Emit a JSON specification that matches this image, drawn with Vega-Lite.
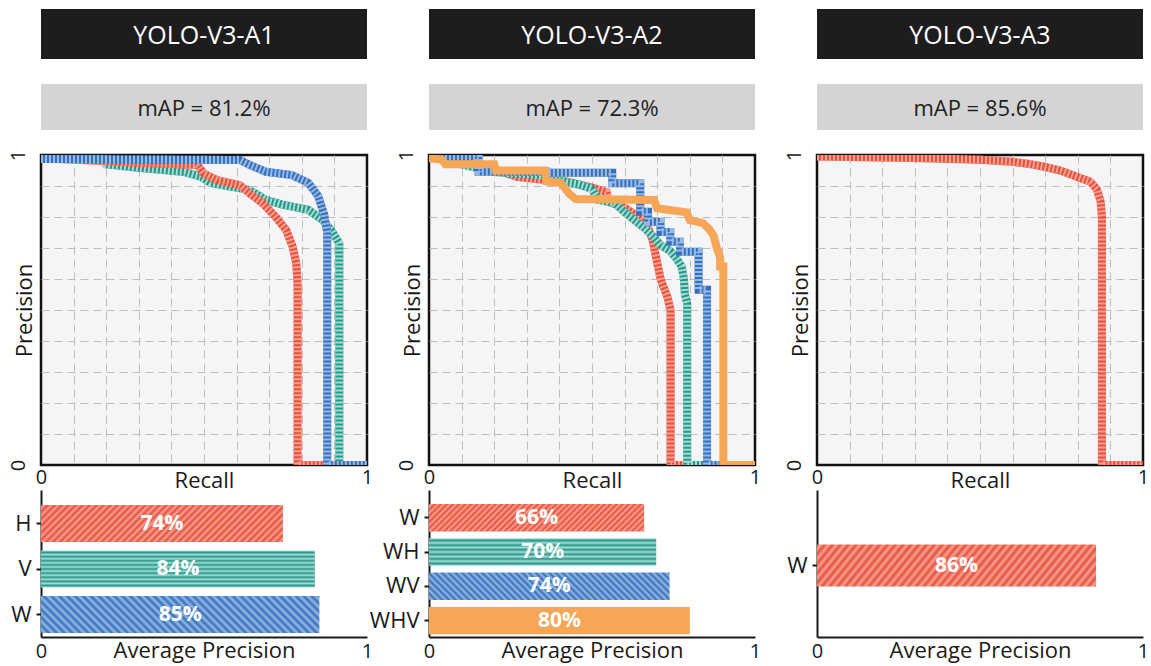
{
"$schema": "https://vega.github.io/schema/vega-lite/v6.json",
"usermeta": {"embedOptions": {"actions": false}},
"padding": {"left": 6, "top": 9, "right": 2, "bottom": 4},
"background": "white",
"config": {"font": "Open Sans", "view": {"stroke": null}},
"columns": 3,
"spacing": {"row": 25, "column": 62},
"bounds": "flush",
"datasets": {
"hdr": [
{"g":"A1","title":"YOLO-V3-A1","map":"mAP = 81.2%"},
{"g":"A2","title":"YOLO-V3-A2","map":"mAP = 72.3%"},
{"g":"A3","title":"YOLO-V3-A3","map":"mAP = 85.6%"}
],
"ap": [
{"g":"A1","s":"H","ap":0.742},{"g":"A1","s":"V","ap":0.84},{"g":"A1","s":"W","ap":0.854},
{"g":"A2","s":"W","ap":0.66},{"g":"A2","s":"WH","ap":0.697},{"g":"A2","s":"WV","ap":0.738},{"g":"A2","s":"WHV","ap":0.8},
{"g":"A3","s":"W","ap":0.856}
],
"pr": [
{"g":"A1","s":"H","i":0,"r":0,"p":0.99},{"g":"A1","s":"H","i":1,"r":0.3,"p":0.975},{"g":"A1","s":"H","i":2,"r":0.48,"p":0.968},{"g":"A1","s":"H","i":3,"r":0.5,"p":0.94},{"g":"A1","s":"H","i":4,"r":0.54,"p":0.919},{"g":"A1","s":"H","i":5,"r":0.61,"p":0.903},{"g":"A1","s":"H","i":6,"r":0.64,"p":0.876},{"g":"A1","s":"H","i":7,"r":0.68,"p":0.844},{"g":"A1","s":"H","i":8,"r":0.72,"p":0.8},{"g":"A1","s":"H","i":9,"r":0.752,"p":0.758},{"g":"A1","s":"H","i":10,"r":0.772,"p":0.704},{"g":"A1","s":"H","i":11,"r":0.783,"p":0.65},{"g":"A1","s":"H","i":12,"r":0.787,"p":0.587},{"g":"A1","s":"H","i":13,"r":0.787,"p":0},{"g":"A1","s":"H","i":14,"r":1,"p":0},
{"g":"A1","s":"V","i":0,"r":0,"p":0.99},{"g":"A1","s":"V","i":1,"r":0.195,"p":0.99},{"g":"A1","s":"V","i":2,"r":0.2,"p":0.97},{"g":"A1","s":"V","i":3,"r":0.29,"p":0.96},{"g":"A1","s":"V","i":4,"r":0.39,"p":0.95},{"g":"A1","s":"V","i":5,"r":0.44,"p":0.945},{"g":"A1","s":"V","i":6,"r":0.49,"p":0.93},{"g":"A1","s":"V","i":7,"r":0.52,"p":0.91},{"g":"A1","s":"V","i":8,"r":0.64,"p":0.887},{"g":"A1","s":"V","i":9,"r":0.69,"p":0.855},{"g":"A1","s":"V","i":10,"r":0.74,"p":0.84},{"g":"A1","s":"V","i":11,"r":0.82,"p":0.823},{"g":"A1","s":"V","i":12,"r":0.865,"p":0.79},{"g":"A1","s":"V","i":13,"r":0.89,"p":0.758},{"g":"A1","s":"V","i":14,"r":0.915,"p":0.715},{"g":"A1","s":"V","i":15,"r":0.915,"p":0},{"g":"A1","s":"V","i":16,"r":1,"p":0},
{"g":"A1","s":"W","i":0,"r":0,"p":0.987},{"g":"A1","s":"W","i":1,"r":0.61,"p":0.984},{"g":"A1","s":"W","i":2,"r":0.64,"p":0.968},{"g":"A1","s":"W","i":3,"r":0.69,"p":0.946},{"g":"A1","s":"W","i":4,"r":0.77,"p":0.935},{"g":"A1","s":"W","i":5,"r":0.82,"p":0.91},{"g":"A1","s":"W","i":6,"r":0.85,"p":0.868},{"g":"A1","s":"W","i":7,"r":0.868,"p":0.81},{"g":"A1","s":"W","i":8,"r":0.878,"p":0.75},{"g":"A1","s":"W","i":9,"r":0.878,"p":0},{"g":"A1","s":"W","i":10,"r":1,"p":0},
{"g":"A2","s":"W","i":0,"r":0,"p":0.995},{"g":"A2","s":"W","i":1,"r":0.05,"p":0.99},{"g":"A2","s":"W","i":2,"r":0.15,"p":0.97},{"g":"A2","s":"W","i":3,"r":0.27,"p":0.93},{"g":"A2","s":"W","i":4,"r":0.35,"p":0.92},{"g":"A2","s":"W","i":5,"r":0.42,"p":0.915},{"g":"A2","s":"W","i":6,"r":0.46,"p":0.905},{"g":"A2","s":"W","i":7,"r":0.5,"p":0.895},{"g":"A2","s":"W","i":8,"r":0.545,"p":0.88},{"g":"A2","s":"W","i":9,"r":0.55,"p":0.85},{"g":"A2","s":"W","i":10,"r":0.6,"p":0.83},{"g":"A2","s":"W","i":11,"r":0.65,"p":0.795},{"g":"A2","s":"W","i":12,"r":0.67,"p":0.77},{"g":"A2","s":"W","i":13,"r":0.686,"p":0.726},{"g":"A2","s":"W","i":14,"r":0.696,"p":0.672},{"g":"A2","s":"W","i":15,"r":0.711,"p":0.597},{"g":"A2","s":"W","i":16,"r":0.731,"p":0.543},{"g":"A2","s":"W","i":17,"r":0.741,"p":0.5},{"g":"A2","s":"W","i":18,"r":0.741,"p":0},{"g":"A2","s":"W","i":19,"r":1,"p":0},
{"g":"A2","s":"WH","i":0,"r":0,"p":0.995},{"g":"A2","s":"WH","i":1,"r":0.1,"p":0.97},{"g":"A2","s":"WH","i":2,"r":0.2,"p":0.945},{"g":"A2","s":"WH","i":3,"r":0.35,"p":0.935},{"g":"A2","s":"WH","i":4,"r":0.4,"p":0.915},{"g":"A2","s":"WH","i":5,"r":0.46,"p":0.905},{"g":"A2","s":"WH","i":6,"r":0.5,"p":0.89},{"g":"A2","s":"WH","i":7,"r":0.52,"p":0.855},{"g":"A2","s":"WH","i":8,"r":0.57,"p":0.845},{"g":"A2","s":"WH","i":9,"r":0.6,"p":0.815},{"g":"A2","s":"WH","i":10,"r":0.63,"p":0.79},{"g":"A2","s":"WH","i":11,"r":0.66,"p":0.765},{"g":"A2","s":"WH","i":12,"r":0.69,"p":0.735},{"g":"A2","s":"WH","i":13,"r":0.71,"p":0.71},{"g":"A2","s":"WH","i":14,"r":0.74,"p":0.69},{"g":"A2","s":"WH","i":15,"r":0.76,"p":0.665},{"g":"A2","s":"WH","i":16,"r":0.775,"p":0.64},{"g":"A2","s":"WH","i":17,"r":0.782,"p":0.6},{"g":"A2","s":"WH","i":18,"r":0.785,"p":0.55},{"g":"A2","s":"WH","i":19,"r":0.792,"p":0.52},{"g":"A2","s":"WH","i":20,"r":0.792,"p":0},{"g":"A2","s":"WH","i":21,"r":1,"p":0},
{"g":"A2","s":"WV","i":0,"r":0,"p":0.995},{"g":"A2","s":"WV","i":1,"r":0.152,"p":0.995},{"g":"A2","s":"WV","i":2,"r":0.152,"p":0.946},{"g":"A2","s":"WV","i":3,"r":0.36,"p":0.946},{"g":"A2","s":"WV","i":4,"r":0.36,"p":0.943},{"g":"A2","s":"WV","i":5,"r":0.562,"p":0.943},{"g":"A2","s":"WV","i":6,"r":0.562,"p":0.909},{"g":"A2","s":"WV","i":7,"r":0.648,"p":0.909},{"g":"A2","s":"WV","i":8,"r":0.648,"p":0.817},{"g":"A2","s":"WV","i":9,"r":0.672,"p":0.817},{"g":"A2","s":"WV","i":10,"r":0.672,"p":0.785},{"g":"A2","s":"WV","i":11,"r":0.71,"p":0.785},{"g":"A2","s":"WV","i":12,"r":0.71,"p":0.752},{"g":"A2","s":"WV","i":13,"r":0.74,"p":0.752},{"g":"A2","s":"WV","i":14,"r":0.74,"p":0.72},{"g":"A2","s":"WV","i":15,"r":0.77,"p":0.72},{"g":"A2","s":"WV","i":16,"r":0.77,"p":0.688},{"g":"A2","s":"WV","i":17,"r":0.827,"p":0.688},{"g":"A2","s":"WV","i":18,"r":0.827,"p":0.565},{"g":"A2","s":"WV","i":19,"r":0.853,"p":0.565},{"g":"A2","s":"WV","i":20,"r":0.853,"p":0},{"g":"A2","s":"WV","i":21,"r":1,"p":0},
{"g":"A2","s":"WHV","i":0,"r":0,"p":0.99},{"g":"A2","s":"WHV","i":1,"r":0.04,"p":0.985},{"g":"A2","s":"WHV","i":2,"r":0.05,"p":0.97},{"g":"A2","s":"WHV","i":3,"r":0.2,"p":0.97},{"g":"A2","s":"WHV","i":4,"r":0.205,"p":0.95},{"g":"A2","s":"WHV","i":5,"r":0.355,"p":0.95},{"g":"A2","s":"WHV","i":6,"r":0.36,"p":0.915},{"g":"A2","s":"WHV","i":7,"r":0.405,"p":0.91},{"g":"A2","s":"WHV","i":8,"r":0.43,"p":0.875},{"g":"A2","s":"WHV","i":9,"r":0.45,"p":0.858},{"g":"A2","s":"WHV","i":10,"r":0.69,"p":0.855},{"g":"A2","s":"WHV","i":11,"r":0.7,"p":0.828},{"g":"A2","s":"WHV","i":12,"r":0.79,"p":0.815},{"g":"A2","s":"WHV","i":13,"r":0.8,"p":0.79},{"g":"A2","s":"WHV","i":14,"r":0.84,"p":0.78},{"g":"A2","s":"WHV","i":15,"r":0.86,"p":0.76},{"g":"A2","s":"WHV","i":16,"r":0.873,"p":0.74},{"g":"A2","s":"WHV","i":17,"r":0.883,"p":0.7},{"g":"A2","s":"WHV","i":18,"r":0.893,"p":0.67},{"g":"A2","s":"WHV","i":19,"r":0.893,"p":0.64},{"g":"A2","s":"WHV","i":20,"r":0.903,"p":0.64},{"g":"A2","s":"WHV","i":21,"r":0.903,"p":0},{"g":"A2","s":"WHV","i":22,"r":1,"p":0},
{"g":"A3","s":"W","i":0,"r":0,"p":0.995},{"g":"A3","s":"W","i":1,"r":0.3,"p":0.99},{"g":"A3","s":"W","i":2,"r":0.5,"p":0.985},{"g":"A3","s":"W","i":3,"r":0.6,"p":0.978},{"g":"A3","s":"W","i":4,"r":0.645,"p":0.972},{"g":"A3","s":"W","i":5,"r":0.697,"p":0.962},{"g":"A3","s":"W","i":6,"r":0.747,"p":0.95},{"g":"A3","s":"W","i":7,"r":0.797,"p":0.93},{"g":"A3","s":"W","i":8,"r":0.838,"p":0.914},{"g":"A3","s":"W","i":9,"r":0.858,"p":0.89},{"g":"A3","s":"W","i":10,"r":0.87,"p":0.85},{"g":"A3","s":"W","i":11,"r":0.874,"p":0.8},{"g":"A3","s":"W","i":12,"r":0.874,"p":0},{"g":"A3","s":"W","i":13,"r":1,"p":0}
]
},
"concat": [
{"width": 326, "height": 50, "view": {"fill": "#1d1d1d", "stroke": null}, "data": {"name": "hdr"}, "transform": [{"filter": "datum.g == 'A1'"}], "mark": {"type": "text", "color": "#ffffff", "fontSize": 25, "dy": 2}, "encoding": {"text": {"field": "title", "type": "nominal"}}},
{"width": 326, "height": 50, "view": {"fill": "#1d1d1d", "stroke": null}, "data": {"name": "hdr"}, "transform": [{"filter": "datum.g == 'A2'"}], "mark": {"type": "text", "color": "#ffffff", "fontSize": 25, "dy": 2}, "encoding": {"text": {"field": "title", "type": "nominal"}}},
{"width": 326, "height": 50, "view": {"fill": "#1d1d1d", "stroke": null}, "data": {"name": "hdr"}, "transform": [{"filter": "datum.g == 'A3'"}], "mark": {"type": "text", "color": "#ffffff", "fontSize": 25, "dy": 2}, "encoding": {"text": {"field": "title", "type": "nominal"}}},
{"width": 326, "height": 46, "view": {"fill": "#d4d4d4", "stroke": null}, "data": {"name": "hdr"}, "transform": [{"filter": "datum.g == 'A1'"}], "mark": {"type": "text", "color": "#1f1f1f", "fontSize": 22, "dy": 2}, "encoding": {"text": {"field": "map", "type": "nominal"}}},
{"width": 326, "height": 46, "view": {"fill": "#d4d4d4", "stroke": null}, "data": {"name": "hdr"}, "transform": [{"filter": "datum.g == 'A2'"}], "mark": {"type": "text", "color": "#1f1f1f", "fontSize": 22, "dy": 2}, "encoding": {"text": {"field": "map", "type": "nominal"}}},
{"width": 326, "height": 46, "view": {"fill": "#d4d4d4", "stroke": null}, "data": {"name": "hdr"}, "transform": [{"filter": "datum.g == 'A3'"}], "mark": {"type": "text", "color": "#1f1f1f", "fontSize": 22, "dy": 2}, "encoding": {"text": {"field": "map", "type": "nominal"}}},
{"width": 326, "height": 310, "view": {"fill": "#f5f4f6", "stroke": "#111111", "strokeWidth": 2.5},
 "data": {"name": "pr"}, "transform": [{"filter": "datum.g == 'A1'"}],
 "encoding": {
  "x": {"field": "r", "type": "quantitative", "scale": {"domain": [0, 1], "nice": false, "zero": false}, "axis": {"values": [0,0.1,0.2,0.3,0.4,0.5,0.6,0.7,0.8,0.9,1], "labelExpr": "datum.value == 0 ? '0' : datum.value == 1 ? '1' : ''", "ticks": false, "domain": false, "grid": true, "gridDash": [8,5], "gridColor": "#bdbdbd", "gridWidth": 1, "gridOpacity": {"condition": {"test": "datum.value == 0 || datum.value == 1", "value": 0}, "value": 1}, "labelFlush": false, "labelOverlap": false, "labelBound": false, "labelFontSize": 20, "labelColor": "#1a1a1a", "labelBaseline": "alphabetic", "labelPadding": 18, "title": "Recall", "titleFontSize": 22, "titleFontWeight": "normal", "titleColor": "#1a1a1a", "titleBaseline": "alphabetic", "titleY": 22}},
  "y": {"field": "p", "type": "quantitative", "scale": {"domain": [0, 1], "nice": false, "zero": false}, "axis": {"values": [0,0.1,0.2,0.3,0.4,0.5,0.6,0.7,0.8,0.9,1], "labelExpr": "datum.value == 0 ? '0' : datum.value == 1 ? '1' : ''", "ticks": false, "domain": false, "grid": true, "gridDash": [8,5], "gridColor": "#bdbdbd", "gridWidth": 1, "gridOpacity": {"condition": {"test": "datum.value == 0 || datum.value == 1", "value": 0}, "value": 1}, "labelFlush": false, "labelOverlap": false, "labelBound": false, "labelAngle": 270, "labelAlign": "center", "labelBaseline": "alphabetic", "labelPadding": 17, "labelFontSize": 20, "labelColor": "#1a1a1a", "title": "Precision", "titleFontSize": 22, "titleFontWeight": "normal", "titleColor": "#1a1a1a", "titleAngle": 270, "titleAlign": "center", "titleBaseline": "alphabetic", "titleX": -10, "titleY": 155}},
  "order": {"field": "i", "type": "quantitative"}
 },
 "layer": [
  {"transform": [{"filter": "datum.s == 'V'"}], "mark": {"type": "line", "color": "#24998a", "strokeWidth": 8, "clip": true}},
  {"transform": [{"filter": "datum.s == 'V'"}], "mark": {"type": "line", "color": "#a7dbd3", "strokeWidth": 8, "strokeDash": [2,2], "clip": true}},
  {"transform": [{"filter": "datum.s == 'H'"}], "mark": {"type": "line", "color": "#e8503c", "strokeWidth": 8, "clip": true}},
  {"transform": [{"filter": "datum.s == 'H'"}], "mark": {"type": "line", "color": "#f6a293", "strokeWidth": 8, "strokeDash": [2,2], "clip": true}},
  {"transform": [{"filter": "datum.s == 'W'"}], "mark": {"type": "line", "color": "#3470bd", "strokeWidth": 8, "clip": true}},
  {"transform": [{"filter": "datum.s == 'W'"}], "mark": {"type": "line", "color": "#98b9e2", "strokeWidth": 8, "strokeDash": [2,2], "clip": true}}
 ]},
{"width": 326, "height": 310, "view": {"fill": "#f5f4f6", "stroke": "#111111", "strokeWidth": 2.5},
 "data": {"name": "pr"}, "transform": [{"filter": "datum.g == 'A2'"}],
 "encoding": {
  "x": {"field": "r", "type": "quantitative", "scale": {"domain": [0, 1], "nice": false, "zero": false}, "axis": {"values": [0,0.1,0.2,0.3,0.4,0.5,0.6,0.7,0.8,0.9,1], "labelExpr": "datum.value == 0 ? '0' : datum.value == 1 ? '1' : ''", "ticks": false, "domain": false, "grid": true, "gridDash": [8,5], "gridColor": "#bdbdbd", "gridWidth": 1, "gridOpacity": {"condition": {"test": "datum.value == 0 || datum.value == 1", "value": 0}, "value": 1}, "labelFlush": false, "labelOverlap": false, "labelBound": false, "labelFontSize": 20, "labelColor": "#1a1a1a", "labelBaseline": "alphabetic", "labelPadding": 18, "title": "Recall", "titleFontSize": 22, "titleFontWeight": "normal", "titleColor": "#1a1a1a", "titleBaseline": "alphabetic", "titleY": 22}},
  "y": {"field": "p", "type": "quantitative", "scale": {"domain": [0, 1], "nice": false, "zero": false}, "axis": {"values": [0,0.1,0.2,0.3,0.4,0.5,0.6,0.7,0.8,0.9,1], "labelExpr": "datum.value == 0 ? '0' : datum.value == 1 ? '1' : ''", "ticks": false, "domain": false, "grid": true, "gridDash": [8,5], "gridColor": "#bdbdbd", "gridWidth": 1, "gridOpacity": {"condition": {"test": "datum.value == 0 || datum.value == 1", "value": 0}, "value": 1}, "labelFlush": false, "labelOverlap": false, "labelBound": false, "labelAngle": 270, "labelAlign": "center", "labelBaseline": "alphabetic", "labelPadding": 17, "labelFontSize": 20, "labelColor": "#1a1a1a", "title": "Precision", "titleFontSize": 22, "titleFontWeight": "normal", "titleColor": "#1a1a1a", "titleAngle": 270, "titleAlign": "center", "titleBaseline": "alphabetic", "titleX": -10, "titleY": 155}},
  "order": {"field": "i", "type": "quantitative"}
 },
 "layer": [
  {"transform": [{"filter": "datum.s == 'W'"}], "mark": {"type": "line", "color": "#e8503c", "strokeWidth": 8, "clip": true}},
  {"transform": [{"filter": "datum.s == 'W'"}], "mark": {"type": "line", "color": "#f6a293", "strokeWidth": 8, "strokeDash": [2,2], "clip": true}},
  {"transform": [{"filter": "datum.s == 'WH'"}], "mark": {"type": "line", "color": "#24998a", "strokeWidth": 8, "clip": true}},
  {"transform": [{"filter": "datum.s == 'WH'"}], "mark": {"type": "line", "color": "#a7dbd3", "strokeWidth": 8, "strokeDash": [2,2], "clip": true}},
  {"transform": [{"filter": "datum.s == 'WV'"}], "mark": {"type": "line", "color": "#3470bd", "strokeWidth": 8, "clip": true}},
  {"transform": [{"filter": "datum.s == 'WV'"}], "mark": {"type": "line", "color": "#98b9e2", "strokeWidth": 8, "strokeDash": [2,2], "clip": true}},
  {"transform": [{"filter": "datum.s == 'WHV'"}], "mark": {"type": "line", "color": "#f5a656", "strokeWidth": 8, "clip": true}}
 ]},
{"width": 326, "height": 310, "view": {"fill": "#f5f4f6", "stroke": "#111111", "strokeWidth": 2.5},
 "data": {"name": "pr"}, "transform": [{"filter": "datum.g == 'A3'"}],
 "encoding": {
  "x": {"field": "r", "type": "quantitative", "scale": {"domain": [0, 1], "nice": false, "zero": false}, "axis": {"values": [0,0.1,0.2,0.3,0.4,0.5,0.6,0.7,0.8,0.9,1], "labelExpr": "datum.value == 0 ? '0' : datum.value == 1 ? '1' : ''", "ticks": false, "domain": false, "grid": true, "gridDash": [8,5], "gridColor": "#bdbdbd", "gridWidth": 1, "gridOpacity": {"condition": {"test": "datum.value == 0 || datum.value == 1", "value": 0}, "value": 1}, "labelFlush": false, "labelOverlap": false, "labelBound": false, "labelFontSize": 20, "labelColor": "#1a1a1a", "labelBaseline": "alphabetic", "labelPadding": 18, "title": "Recall", "titleFontSize": 22, "titleFontWeight": "normal", "titleColor": "#1a1a1a", "titleBaseline": "alphabetic", "titleY": 22}},
  "y": {"field": "p", "type": "quantitative", "scale": {"domain": [0, 1], "nice": false, "zero": false}, "axis": {"values": [0,0.1,0.2,0.3,0.4,0.5,0.6,0.7,0.8,0.9,1], "labelExpr": "datum.value == 0 ? '0' : datum.value == 1 ? '1' : ''", "ticks": false, "domain": false, "grid": true, "gridDash": [8,5], "gridColor": "#bdbdbd", "gridWidth": 1, "gridOpacity": {"condition": {"test": "datum.value == 0 || datum.value == 1", "value": 0}, "value": 1}, "labelFlush": false, "labelOverlap": false, "labelBound": false, "labelAngle": 270, "labelAlign": "center", "labelBaseline": "alphabetic", "labelPadding": 17, "labelFontSize": 20, "labelColor": "#1a1a1a", "title": "Precision", "titleFontSize": 22, "titleFontWeight": "normal", "titleColor": "#1a1a1a", "titleAngle": 270, "titleAlign": "center", "titleBaseline": "alphabetic", "titleX": -10, "titleY": 155}},
  "order": {"field": "i", "type": "quantitative"}
 },
 "layer": [
  {"transform": [{"filter": "datum.s == 'W'"}], "mark": {"type": "line", "color": "#e8503c", "strokeWidth": 8, "clip": true}},
  {"transform": [{"filter": "datum.s == 'W'"}], "mark": {"type": "line", "color": "#f6a293", "strokeWidth": 8, "strokeDash": [2,2], "clip": true}}
 ]},
{"width": 326, "height": 147,
 "data": {"name": "ap"}, "transform": [{"filter": "datum.g == 'A1'"}, {"calculate": "datum.ap / 2", "as": "mid"}],
 "encoding": {
  "y": {"field": "s", "type": "nominal", "sort": ["H","V","W"], "scale": {"paddingInner": 0.187, "paddingOuter": 0.209, "align": 0.79}, "axis": {"title": null, "domainColor": "#1a1a1a", "domainWidth": 2, "tickColor": "#1a1a1a", "tickWidth": 2, "tickSize": 5, "labelFontSize": 22, "labelColor": "#1a1a1a", "labelPadding": 5}},
  "x": {"field": "ap", "type": "quantitative", "scale": {"domain": [0, 1], "nice": false}, "axis": {"values": [0, 1], "format": "d", "ticks": false, "grid": false, "domainColor": "#1a1a1a", "domainWidth": 2, "labelFlush": false, "labelFontSize": 20, "labelColor": "#1a1a1a", "labelBaseline": "alphabetic", "labelPadding": 20, "title": "Average Precision", "titleFontSize": 22, "titleFontWeight": "normal", "titleColor": "#1a1a1a", "titleBaseline": "alphabetic", "titleY": 20}}
 },
 "layer": [
  {"transform": [{"filter": "datum.s == 'H'"}], "mark": {"type": "bar", "color": {"gradient": "linear", "x1": 0, "y1": 0, "x2": 1.1265, "y2": 0.1718, "stops": [{"offset":0,"color":"#e8503c"},{"offset":0.0125,"color":"#f6a293"},{"offset":0.025,"color":"#e8503c"},{"offset":0.0375,"color":"#f6a293"},{"offset":0.05,"color":"#e8503c"},{"offset":0.0625,"color":"#f6a293"},{"offset":0.075,"color":"#e8503c"},{"offset":0.0875,"color":"#f6a293"},{"offset":0.1,"color":"#e8503c"},{"offset":0.1125,"color":"#f6a293"},{"offset":0.125,"color":"#e8503c"},{"offset":0.1375,"color":"#f6a293"},{"offset":0.15,"color":"#e8503c"},{"offset":0.1625,"color":"#f6a293"},{"offset":0.175,"color":"#e8503c"},{"offset":0.1875,"color":"#f6a293"},{"offset":0.2,"color":"#e8503c"},{"offset":0.2125,"color":"#f6a293"},{"offset":0.225,"color":"#e8503c"},{"offset":0.2375,"color":"#f6a293"},{"offset":0.25,"color":"#e8503c"},{"offset":0.2625,"color":"#f6a293"},{"offset":0.275,"color":"#e8503c"},{"offset":0.2875,"color":"#f6a293"},{"offset":0.3,"color":"#e8503c"},{"offset":0.3125,"color":"#f6a293"},{"offset":0.325,"color":"#e8503c"},{"offset":0.3375,"color":"#f6a293"},{"offset":0.35,"color":"#e8503c"},{"offset":0.3625,"color":"#f6a293"},{"offset":0.375,"color":"#e8503c"},{"offset":0.3875,"color":"#f6a293"},{"offset":0.4,"color":"#e8503c"},{"offset":0.4125,"color":"#f6a293"},{"offset":0.425,"color":"#e8503c"},{"offset":0.4375,"color":"#f6a293"},{"offset":0.45,"color":"#e8503c"},{"offset":0.4625,"color":"#f6a293"},{"offset":0.475,"color":"#e8503c"},{"offset":0.4875,"color":"#f6a293"},{"offset":0.5,"color":"#e8503c"},{"offset":0.5125,"color":"#f6a293"},{"offset":0.525,"color":"#e8503c"},{"offset":0.5375,"color":"#f6a293"},{"offset":0.55,"color":"#e8503c"},{"offset":0.5625,"color":"#f6a293"},{"offset":0.575,"color":"#e8503c"},{"offset":0.5875,"color":"#f6a293"},{"offset":0.6,"color":"#e8503c"},{"offset":0.6125,"color":"#f6a293"},{"offset":0.625,"color":"#e8503c"},{"offset":0.6375,"color":"#f6a293"},{"offset":0.65,"color":"#e8503c"},{"offset":0.6625,"color":"#f6a293"},{"offset":0.675,"color":"#e8503c"},{"offset":0.6875,"color":"#f6a293"},{"offset":0.7,"color":"#e8503c"},{"offset":0.7125,"color":"#f6a293"},{"offset":0.725,"color":"#e8503c"},{"offset":0.7375,"color":"#f6a293"},{"offset":0.75,"color":"#e8503c"},{"offset":0.7625,"color":"#f6a293"},{"offset":0.775,"color":"#e8503c"},{"offset":0.7875,"color":"#f6a293"},{"offset":0.8,"color":"#e8503c"},{"offset":0.8125,"color":"#f6a293"},{"offset":0.825,"color":"#e8503c"},{"offset":0.8375,"color":"#f6a293"},{"offset":0.85,"color":"#e8503c"},{"offset":0.8625,"color":"#f6a293"},{"offset":0.875,"color":"#e8503c"},{"offset":0.8875,"color":"#f6a293"},{"offset":0.9,"color":"#e8503c"},{"offset":0.9125,"color":"#f6a293"},{"offset":0.925,"color":"#e8503c"},{"offset":0.9375,"color":"#f6a293"},{"offset":0.95,"color":"#e8503c"},{"offset":0.9625,"color":"#f6a293"},{"offset":0.975,"color":"#e8503c"},{"offset":0.9875,"color":"#f6a293"},{"offset":1,"color":"#e8503c"}]}}},
  {"transform": [{"filter": "datum.s == 'V'"}], "mark": {"type": "bar", "color": {"gradient": "linear", "x1": 0, "y1": 0, "x2": 0, "y2": 1, "stops": [{"offset":0,"color":"#a7dbd3"},{"offset":0.0556,"color":"#24998a"},{"offset":0.1111,"color":"#a7dbd3"},{"offset":0.1667,"color":"#24998a"},{"offset":0.2222,"color":"#a7dbd3"},{"offset":0.2778,"color":"#24998a"},{"offset":0.3333,"color":"#a7dbd3"},{"offset":0.3889,"color":"#24998a"},{"offset":0.4444,"color":"#a7dbd3"},{"offset":0.5,"color":"#24998a"},{"offset":0.5556,"color":"#a7dbd3"},{"offset":0.6111,"color":"#24998a"},{"offset":0.6667,"color":"#a7dbd3"},{"offset":0.7222,"color":"#24998a"},{"offset":0.7778,"color":"#a7dbd3"},{"offset":0.8333,"color":"#24998a"},{"offset":0.8889,"color":"#a7dbd3"},{"offset":0.9444,"color":"#24998a"},{"offset":1,"color":"#a7dbd3"}]}}},
  {"transform": [{"filter": "datum.s == 'W'"}], "mark": {"type": "bar", "color": {"gradient": "linear", "x1": 0, "y1": 1, "x2": 1.1132, "y2": 0.8525, "stops": [{"offset":0,"color":"#3470bd"},{"offset":0.0125,"color":"#98b9e2"},{"offset":0.025,"color":"#3470bd"},{"offset":0.0375,"color":"#98b9e2"},{"offset":0.05,"color":"#3470bd"},{"offset":0.0625,"color":"#98b9e2"},{"offset":0.075,"color":"#3470bd"},{"offset":0.0875,"color":"#98b9e2"},{"offset":0.1,"color":"#3470bd"},{"offset":0.1125,"color":"#98b9e2"},{"offset":0.125,"color":"#3470bd"},{"offset":0.1375,"color":"#98b9e2"},{"offset":0.15,"color":"#3470bd"},{"offset":0.1625,"color":"#98b9e2"},{"offset":0.175,"color":"#3470bd"},{"offset":0.1875,"color":"#98b9e2"},{"offset":0.2,"color":"#3470bd"},{"offset":0.2125,"color":"#98b9e2"},{"offset":0.225,"color":"#3470bd"},{"offset":0.2375,"color":"#98b9e2"},{"offset":0.25,"color":"#3470bd"},{"offset":0.2625,"color":"#98b9e2"},{"offset":0.275,"color":"#3470bd"},{"offset":0.2875,"color":"#98b9e2"},{"offset":0.3,"color":"#3470bd"},{"offset":0.3125,"color":"#98b9e2"},{"offset":0.325,"color":"#3470bd"},{"offset":0.3375,"color":"#98b9e2"},{"offset":0.35,"color":"#3470bd"},{"offset":0.3625,"color":"#98b9e2"},{"offset":0.375,"color":"#3470bd"},{"offset":0.3875,"color":"#98b9e2"},{"offset":0.4,"color":"#3470bd"},{"offset":0.4125,"color":"#98b9e2"},{"offset":0.425,"color":"#3470bd"},{"offset":0.4375,"color":"#98b9e2"},{"offset":0.45,"color":"#3470bd"},{"offset":0.4625,"color":"#98b9e2"},{"offset":0.475,"color":"#3470bd"},{"offset":0.4875,"color":"#98b9e2"},{"offset":0.5,"color":"#3470bd"},{"offset":0.5125,"color":"#98b9e2"},{"offset":0.525,"color":"#3470bd"},{"offset":0.5375,"color":"#98b9e2"},{"offset":0.55,"color":"#3470bd"},{"offset":0.5625,"color":"#98b9e2"},{"offset":0.575,"color":"#3470bd"},{"offset":0.5875,"color":"#98b9e2"},{"offset":0.6,"color":"#3470bd"},{"offset":0.6125,"color":"#98b9e2"},{"offset":0.625,"color":"#3470bd"},{"offset":0.6375,"color":"#98b9e2"},{"offset":0.65,"color":"#3470bd"},{"offset":0.6625,"color":"#98b9e2"},{"offset":0.675,"color":"#3470bd"},{"offset":0.6875,"color":"#98b9e2"},{"offset":0.7,"color":"#3470bd"},{"offset":0.7125,"color":"#98b9e2"},{"offset":0.725,"color":"#3470bd"},{"offset":0.7375,"color":"#98b9e2"},{"offset":0.75,"color":"#3470bd"},{"offset":0.7625,"color":"#98b9e2"},{"offset":0.775,"color":"#3470bd"},{"offset":0.7875,"color":"#98b9e2"},{"offset":0.8,"color":"#3470bd"},{"offset":0.8125,"color":"#98b9e2"},{"offset":0.825,"color":"#3470bd"},{"offset":0.8375,"color":"#98b9e2"},{"offset":0.85,"color":"#3470bd"},{"offset":0.8625,"color":"#98b9e2"},{"offset":0.875,"color":"#3470bd"},{"offset":0.8875,"color":"#98b9e2"},{"offset":0.9,"color":"#3470bd"},{"offset":0.9125,"color":"#98b9e2"},{"offset":0.925,"color":"#3470bd"},{"offset":0.9375,"color":"#98b9e2"},{"offset":0.95,"color":"#3470bd"},{"offset":0.9625,"color":"#98b9e2"},{"offset":0.975,"color":"#3470bd"},{"offset":0.9875,"color":"#98b9e2"},{"offset":1,"color":"#3470bd"}]}}},
  {"mark": {"type": "text", "color": "#ffffff", "fontSize": 21, "fontWeight": "bold"}, "encoding": {"x": {"field": "mid", "type": "quantitative"}, "text": {"field": "ap", "type": "quantitative", "format": ".0%"}}}
 ]},
{"width": 326, "height": 147,
 "data": {"name": "ap"}, "transform": [{"filter": "datum.g == 'A2'"}, {"calculate": "datum.ap / 2", "as": "mid"}],
 "encoding": {
  "y": {"field": "s", "type": "nominal", "sort": ["W","WH","WV","WHV"], "scale": {"paddingInner": 0.2, "paddingOuter": 0.243, "align": 0.84}, "axis": {"title": null, "domainColor": "#1a1a1a", "domainWidth": 2, "tickColor": "#1a1a1a", "tickWidth": 2, "tickSize": 5, "labelFontSize": 22, "labelColor": "#1a1a1a", "labelPadding": 5}},
  "x": {"field": "ap", "type": "quantitative", "scale": {"domain": [0, 1], "nice": false}, "axis": {"values": [0, 1], "format": "d", "ticks": false, "grid": false, "domainColor": "#1a1a1a", "domainWidth": 2, "labelFlush": false, "labelFontSize": 20, "labelColor": "#1a1a1a", "labelBaseline": "alphabetic", "labelPadding": 20, "title": "Average Precision", "titleFontSize": 22, "titleFontWeight": "normal", "titleColor": "#1a1a1a", "titleBaseline": "alphabetic", "titleY": 20}}
 },
 "layer": [
  {"transform": [{"filter": "datum.s == 'W'"}], "mark": {"type": "bar", "color": {"gradient": "linear", "x1": 0, "y1": 0, "x2": 1.109, "y2": 0.141, "stops": [{"offset":0,"color":"#e8503c"},{"offset":0.0125,"color":"#f6a293"},{"offset":0.025,"color":"#e8503c"},{"offset":0.0375,"color":"#f6a293"},{"offset":0.05,"color":"#e8503c"},{"offset":0.0625,"color":"#f6a293"},{"offset":0.075,"color":"#e8503c"},{"offset":0.0875,"color":"#f6a293"},{"offset":0.1,"color":"#e8503c"},{"offset":0.1125,"color":"#f6a293"},{"offset":0.125,"color":"#e8503c"},{"offset":0.1375,"color":"#f6a293"},{"offset":0.15,"color":"#e8503c"},{"offset":0.1625,"color":"#f6a293"},{"offset":0.175,"color":"#e8503c"},{"offset":0.1875,"color":"#f6a293"},{"offset":0.2,"color":"#e8503c"},{"offset":0.2125,"color":"#f6a293"},{"offset":0.225,"color":"#e8503c"},{"offset":0.2375,"color":"#f6a293"},{"offset":0.25,"color":"#e8503c"},{"offset":0.2625,"color":"#f6a293"},{"offset":0.275,"color":"#e8503c"},{"offset":0.2875,"color":"#f6a293"},{"offset":0.3,"color":"#e8503c"},{"offset":0.3125,"color":"#f6a293"},{"offset":0.325,"color":"#e8503c"},{"offset":0.3375,"color":"#f6a293"},{"offset":0.35,"color":"#e8503c"},{"offset":0.3625,"color":"#f6a293"},{"offset":0.375,"color":"#e8503c"},{"offset":0.3875,"color":"#f6a293"},{"offset":0.4,"color":"#e8503c"},{"offset":0.4125,"color":"#f6a293"},{"offset":0.425,"color":"#e8503c"},{"offset":0.4375,"color":"#f6a293"},{"offset":0.45,"color":"#e8503c"},{"offset":0.4625,"color":"#f6a293"},{"offset":0.475,"color":"#e8503c"},{"offset":0.4875,"color":"#f6a293"},{"offset":0.5,"color":"#e8503c"},{"offset":0.5125,"color":"#f6a293"},{"offset":0.525,"color":"#e8503c"},{"offset":0.5375,"color":"#f6a293"},{"offset":0.55,"color":"#e8503c"},{"offset":0.5625,"color":"#f6a293"},{"offset":0.575,"color":"#e8503c"},{"offset":0.5875,"color":"#f6a293"},{"offset":0.6,"color":"#e8503c"},{"offset":0.6125,"color":"#f6a293"},{"offset":0.625,"color":"#e8503c"},{"offset":0.6375,"color":"#f6a293"},{"offset":0.65,"color":"#e8503c"},{"offset":0.6625,"color":"#f6a293"},{"offset":0.675,"color":"#e8503c"},{"offset":0.6875,"color":"#f6a293"},{"offset":0.7,"color":"#e8503c"},{"offset":0.7125,"color":"#f6a293"},{"offset":0.725,"color":"#e8503c"},{"offset":0.7375,"color":"#f6a293"},{"offset":0.75,"color":"#e8503c"},{"offset":0.7625,"color":"#f6a293"},{"offset":0.775,"color":"#e8503c"},{"offset":0.7875,"color":"#f6a293"},{"offset":0.8,"color":"#e8503c"},{"offset":0.8125,"color":"#f6a293"},{"offset":0.825,"color":"#e8503c"},{"offset":0.8375,"color":"#f6a293"},{"offset":0.85,"color":"#e8503c"},{"offset":0.8625,"color":"#f6a293"},{"offset":0.875,"color":"#e8503c"},{"offset":0.8875,"color":"#f6a293"},{"offset":0.9,"color":"#e8503c"},{"offset":0.9125,"color":"#f6a293"},{"offset":0.925,"color":"#e8503c"},{"offset":0.9375,"color":"#f6a293"},{"offset":0.95,"color":"#e8503c"},{"offset":0.9625,"color":"#f6a293"},{"offset":0.975,"color":"#e8503c"},{"offset":0.9875,"color":"#f6a293"},{"offset":1,"color":"#e8503c"}]}}},
  {"transform": [{"filter": "datum.s == 'WH'"}], "mark": {"type": "bar", "color": {"gradient": "linear", "x1": 0, "y1": 0, "x2": 0, "y2": 1, "stops": [{"offset":0,"color":"#a7dbd3"},{"offset":0.0833,"color":"#24998a"},{"offset":0.1667,"color":"#a7dbd3"},{"offset":0.25,"color":"#24998a"},{"offset":0.3333,"color":"#a7dbd3"},{"offset":0.4167,"color":"#24998a"},{"offset":0.5,"color":"#a7dbd3"},{"offset":0.5833,"color":"#24998a"},{"offset":0.6667,"color":"#a7dbd3"},{"offset":0.75,"color":"#24998a"},{"offset":0.8333,"color":"#a7dbd3"},{"offset":0.9167,"color":"#24998a"},{"offset":1,"color":"#a7dbd3"}]}}},
  {"transform": [{"filter": "datum.s == 'WV'"}], "mark": {"type": "bar", "color": {"gradient": "linear", "x1": 0, "y1": 1, "x2": 1.0994, "y2": 0.875, "stops": [{"offset":0,"color":"#3470bd"},{"offset":0.0125,"color":"#98b9e2"},{"offset":0.025,"color":"#3470bd"},{"offset":0.0375,"color":"#98b9e2"},{"offset":0.05,"color":"#3470bd"},{"offset":0.0625,"color":"#98b9e2"},{"offset":0.075,"color":"#3470bd"},{"offset":0.0875,"color":"#98b9e2"},{"offset":0.1,"color":"#3470bd"},{"offset":0.1125,"color":"#98b9e2"},{"offset":0.125,"color":"#3470bd"},{"offset":0.1375,"color":"#98b9e2"},{"offset":0.15,"color":"#3470bd"},{"offset":0.1625,"color":"#98b9e2"},{"offset":0.175,"color":"#3470bd"},{"offset":0.1875,"color":"#98b9e2"},{"offset":0.2,"color":"#3470bd"},{"offset":0.2125,"color":"#98b9e2"},{"offset":0.225,"color":"#3470bd"},{"offset":0.2375,"color":"#98b9e2"},{"offset":0.25,"color":"#3470bd"},{"offset":0.2625,"color":"#98b9e2"},{"offset":0.275,"color":"#3470bd"},{"offset":0.2875,"color":"#98b9e2"},{"offset":0.3,"color":"#3470bd"},{"offset":0.3125,"color":"#98b9e2"},{"offset":0.325,"color":"#3470bd"},{"offset":0.3375,"color":"#98b9e2"},{"offset":0.35,"color":"#3470bd"},{"offset":0.3625,"color":"#98b9e2"},{"offset":0.375,"color":"#3470bd"},{"offset":0.3875,"color":"#98b9e2"},{"offset":0.4,"color":"#3470bd"},{"offset":0.4125,"color":"#98b9e2"},{"offset":0.425,"color":"#3470bd"},{"offset":0.4375,"color":"#98b9e2"},{"offset":0.45,"color":"#3470bd"},{"offset":0.4625,"color":"#98b9e2"},{"offset":0.475,"color":"#3470bd"},{"offset":0.4875,"color":"#98b9e2"},{"offset":0.5,"color":"#3470bd"},{"offset":0.5125,"color":"#98b9e2"},{"offset":0.525,"color":"#3470bd"},{"offset":0.5375,"color":"#98b9e2"},{"offset":0.55,"color":"#3470bd"},{"offset":0.5625,"color":"#98b9e2"},{"offset":0.575,"color":"#3470bd"},{"offset":0.5875,"color":"#98b9e2"},{"offset":0.6,"color":"#3470bd"},{"offset":0.6125,"color":"#98b9e2"},{"offset":0.625,"color":"#3470bd"},{"offset":0.6375,"color":"#98b9e2"},{"offset":0.65,"color":"#3470bd"},{"offset":0.6625,"color":"#98b9e2"},{"offset":0.675,"color":"#3470bd"},{"offset":0.6875,"color":"#98b9e2"},{"offset":0.7,"color":"#3470bd"},{"offset":0.7125,"color":"#98b9e2"},{"offset":0.725,"color":"#3470bd"},{"offset":0.7375,"color":"#98b9e2"},{"offset":0.75,"color":"#3470bd"},{"offset":0.7625,"color":"#98b9e2"},{"offset":0.775,"color":"#3470bd"},{"offset":0.7875,"color":"#98b9e2"},{"offset":0.8,"color":"#3470bd"},{"offset":0.8125,"color":"#98b9e2"},{"offset":0.825,"color":"#3470bd"},{"offset":0.8375,"color":"#98b9e2"},{"offset":0.85,"color":"#3470bd"},{"offset":0.8625,"color":"#98b9e2"},{"offset":0.875,"color":"#3470bd"},{"offset":0.8875,"color":"#98b9e2"},{"offset":0.9,"color":"#3470bd"},{"offset":0.9125,"color":"#98b9e2"},{"offset":0.925,"color":"#3470bd"},{"offset":0.9375,"color":"#98b9e2"},{"offset":0.95,"color":"#3470bd"},{"offset":0.9625,"color":"#98b9e2"},{"offset":0.975,"color":"#3470bd"},{"offset":0.9875,"color":"#98b9e2"},{"offset":1,"color":"#3470bd"}]}}},
  {"transform": [{"filter": "datum.s == 'WHV'"}], "mark": {"type": "bar", "color": "#f5a656"}},
  {"mark": {"type": "text", "color": "#ffffff", "fontSize": 21, "fontWeight": "bold"}, "encoding": {"x": {"field": "mid", "type": "quantitative"}, "text": {"field": "ap", "type": "quantitative", "format": ".0%"}}}
 ]},
{"width": 326, "height": 147,
 "data": {"name": "ap"}, "transform": [{"filter": "datum.g == 'A3'"}, {"calculate": "datum.ap / 2", "as": "mid"}],
 "encoding": {
  "y": {"field": "s", "type": "nominal", "sort": ["W"], "scale": {"paddingInner": 0.2, "paddingOuter": 1.31, "align": 0.52}, "axis": {"title": null, "domainColor": "#1a1a1a", "domainWidth": 2, "tickColor": "#1a1a1a", "tickWidth": 2, "tickSize": 5, "labelFontSize": 22, "labelColor": "#1a1a1a", "labelPadding": 5}},
  "x": {"field": "ap", "type": "quantitative", "scale": {"domain": [0, 1], "nice": false}, "axis": {"values": [0, 1], "format": "d", "ticks": false, "grid": false, "domainColor": "#1a1a1a", "domainWidth": 2, "labelFlush": false, "labelFontSize": 20, "labelColor": "#1a1a1a", "labelBaseline": "alphabetic", "labelPadding": 20, "title": "Average Precision", "titleFontSize": 22, "titleFontWeight": "normal", "titleColor": "#1a1a1a", "titleBaseline": "alphabetic", "titleY": 20}}
 },
 "layer": [
  {"transform": [{"filter": "datum.s == 'W'"}], "mark": {"type": "bar", "color": {"gradient": "linear", "x1": 0, "y1": 0, "x2": 1.1066, "y2": 0.136, "stops": [{"offset":0,"color":"#e8503c"},{"offset":0.0125,"color":"#f6a293"},{"offset":0.025,"color":"#e8503c"},{"offset":0.0375,"color":"#f6a293"},{"offset":0.05,"color":"#e8503c"},{"offset":0.0625,"color":"#f6a293"},{"offset":0.075,"color":"#e8503c"},{"offset":0.0875,"color":"#f6a293"},{"offset":0.1,"color":"#e8503c"},{"offset":0.1125,"color":"#f6a293"},{"offset":0.125,"color":"#e8503c"},{"offset":0.1375,"color":"#f6a293"},{"offset":0.15,"color":"#e8503c"},{"offset":0.1625,"color":"#f6a293"},{"offset":0.175,"color":"#e8503c"},{"offset":0.1875,"color":"#f6a293"},{"offset":0.2,"color":"#e8503c"},{"offset":0.2125,"color":"#f6a293"},{"offset":0.225,"color":"#e8503c"},{"offset":0.2375,"color":"#f6a293"},{"offset":0.25,"color":"#e8503c"},{"offset":0.2625,"color":"#f6a293"},{"offset":0.275,"color":"#e8503c"},{"offset":0.2875,"color":"#f6a293"},{"offset":0.3,"color":"#e8503c"},{"offset":0.3125,"color":"#f6a293"},{"offset":0.325,"color":"#e8503c"},{"offset":0.3375,"color":"#f6a293"},{"offset":0.35,"color":"#e8503c"},{"offset":0.3625,"color":"#f6a293"},{"offset":0.375,"color":"#e8503c"},{"offset":0.3875,"color":"#f6a293"},{"offset":0.4,"color":"#e8503c"},{"offset":0.4125,"color":"#f6a293"},{"offset":0.425,"color":"#e8503c"},{"offset":0.4375,"color":"#f6a293"},{"offset":0.45,"color":"#e8503c"},{"offset":0.4625,"color":"#f6a293"},{"offset":0.475,"color":"#e8503c"},{"offset":0.4875,"color":"#f6a293"},{"offset":0.5,"color":"#e8503c"},{"offset":0.5125,"color":"#f6a293"},{"offset":0.525,"color":"#e8503c"},{"offset":0.5375,"color":"#f6a293"},{"offset":0.55,"color":"#e8503c"},{"offset":0.5625,"color":"#f6a293"},{"offset":0.575,"color":"#e8503c"},{"offset":0.5875,"color":"#f6a293"},{"offset":0.6,"color":"#e8503c"},{"offset":0.6125,"color":"#f6a293"},{"offset":0.625,"color":"#e8503c"},{"offset":0.6375,"color":"#f6a293"},{"offset":0.65,"color":"#e8503c"},{"offset":0.6625,"color":"#f6a293"},{"offset":0.675,"color":"#e8503c"},{"offset":0.6875,"color":"#f6a293"},{"offset":0.7,"color":"#e8503c"},{"offset":0.7125,"color":"#f6a293"},{"offset":0.725,"color":"#e8503c"},{"offset":0.7375,"color":"#f6a293"},{"offset":0.75,"color":"#e8503c"},{"offset":0.7625,"color":"#f6a293"},{"offset":0.775,"color":"#e8503c"},{"offset":0.7875,"color":"#f6a293"},{"offset":0.8,"color":"#e8503c"},{"offset":0.8125,"color":"#f6a293"},{"offset":0.825,"color":"#e8503c"},{"offset":0.8375,"color":"#f6a293"},{"offset":0.85,"color":"#e8503c"},{"offset":0.8625,"color":"#f6a293"},{"offset":0.875,"color":"#e8503c"},{"offset":0.8875,"color":"#f6a293"},{"offset":0.9,"color":"#e8503c"},{"offset":0.9125,"color":"#f6a293"},{"offset":0.925,"color":"#e8503c"},{"offset":0.9375,"color":"#f6a293"},{"offset":0.95,"color":"#e8503c"},{"offset":0.9625,"color":"#f6a293"},{"offset":0.975,"color":"#e8503c"},{"offset":0.9875,"color":"#f6a293"},{"offset":1,"color":"#e8503c"}]}}},
  {"mark": {"type": "text", "color": "#ffffff", "fontSize": 21, "fontWeight": "bold"}, "encoding": {"x": {"field": "mid", "type": "quantitative"}, "text": {"field": "ap", "type": "quantitative", "format": ".0%"}}}
 ]}
]
}
